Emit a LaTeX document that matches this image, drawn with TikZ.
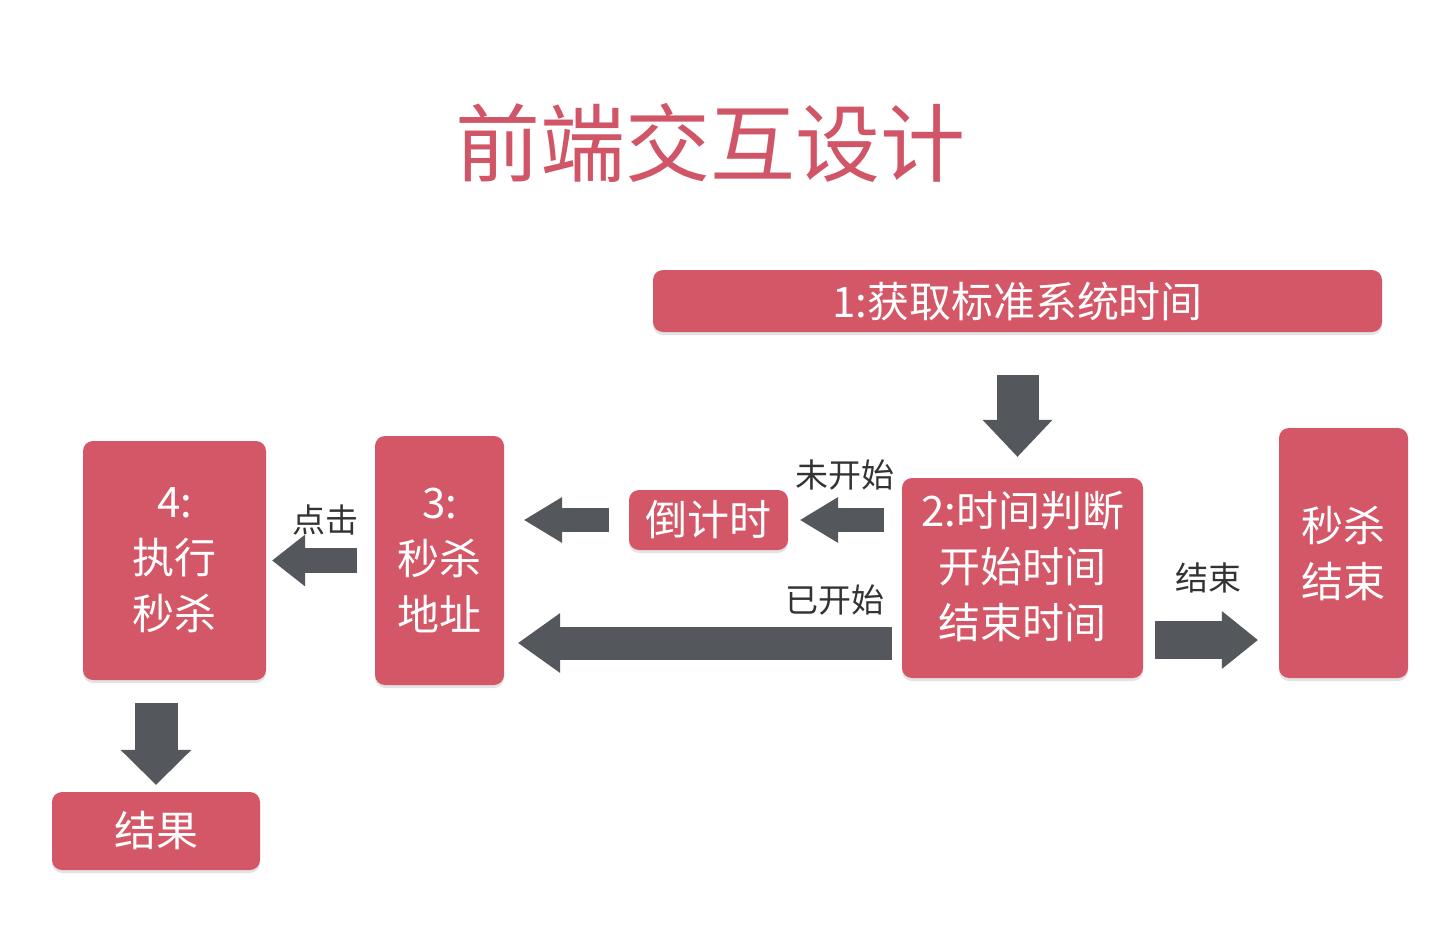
\documentclass[tikz,border=0pt]{standalone}
\usepackage{fontspec}
\newfontfamily\cjk{Noto Sans CJK SC}
\usetikzlibrary{arrows.meta,shadows}
\definecolor{boxred}{HTML}{D35766}
\definecolor{titlered}{HTML}{D05566}
\definecolor{arrowgray}{HTML}{54575C}
\definecolor{labelgray}{HTML}{333333}
\tikzset{
  box/.style={fill=boxred, rounded corners=10pt, inner sep=0pt, align=center,
    text=white, font=\cjk\fontsize{42}{56}\selectfont,
    drop shadow={opacity=0.22, shadow xshift=0pt, shadow yshift=-3pt}},
  lbl/.style={text=labelgray, font=\cjk\fontsize{33}{40}\selectfont, inner sep=0pt},
  fat/.style={draw=arrowgray, line cap=butt}
}
\begin{document}
\begin{tikzpicture}[x=1pt,y=-1pt]
\useasboundingbox (0,0) rectangle (1452,934);
% title
\node[text=titlered, font=\cjk\fontsize{85}{90}\selectfont, inner sep=0pt] (title) at (710,143) {前端交互设计};
% boxes
\node[box, minimum width=729pt, minimum height=62pt] (b1) at (1017.5,301) {1:获取标准系统时间};
\node[box, minimum width=241pt, minimum height=200pt] (b2) at (1022.5,578) {2:时间判断\\开始时间\\结束时间\\[-30pt]\mbox{}};
\node[box, minimum width=129pt, minimum height=250pt] (bend) at (1343.5,553) {秒杀\\结束};
\node[box, minimum width=159pt, minimum height=60pt] (bcd) at (708.5,520) {倒计时};
\node[box, minimum width=129pt, minimum height=249pt] (b3) at (439.5,560.5) {3:\\秒杀\\地址};
\node[box, minimum width=183pt, minimum height=239pt] (b4) at (174.5,560.5) {4:\\执行\\秒杀};
\node[box, minimum width=208pt, minimum height=78pt] (bres) at (156,831) {结果};
% helper coordinates
\path (b2.west) ++(0,65) coordinate (l2);
\path (b2.east) ++(0,62) coordinate (r2);
% arrows
\draw[fat, line width=42pt, -{Triangle[width=70pt,length=37pt,line width=0pt]}, shorten <=43pt, shorten >=21pt] (b1.south) -- (b1.south |- b2.north);
\draw[fat, line width=24pt, -{Triangle[width=46pt,length=38pt,line width=0pt]}, shorten <=18pt, shorten >=12pt] (b2.west |- bcd.east) -- (bcd.east);
\draw[fat, line width=24pt, -{Triangle[width=46pt,length=38pt,line width=0pt]}, shorten <=20pt, shorten >=20pt] (bcd.west) -- (bcd.west -| b3.east);
\draw[fat, line width=33pt, -{Triangle[width=60pt,length=42pt,line width=0pt]}, shorten <=10pt, shorten >=14pt] (l2) -- (l2 -| b3.east);
\draw[fat, line width=38pt, -{Triangle[width=58pt,length=36pt,line width=0pt]}, shorten <=12pt, shorten >=21pt] (r2) -- (r2 -| bend.west);
\draw[fat, line width=25pt, -{Triangle[width=52pt,length=33pt,line width=0pt]}, shorten <=18pt, shorten >=6pt] (b3.west) -- (b3.west -| b4.east);
\draw[fat, line width=43pt, -{Triangle[width=71pt,length=35pt,line width=0pt]}, shorten <=23pt, shorten >=7pt] (bres.north |- b4.south) -- (bres.north);
% labels
\node[lbl] (lnot) at (845,475) {未开始};
\node[lbl] (lstart) at (835,600) {已开始};
\node[lbl] (lend) at (1208,578) {结束};
\node[lbl] (lclick) at (325,520) {点击};
\end{tikzpicture}
\end{document}
